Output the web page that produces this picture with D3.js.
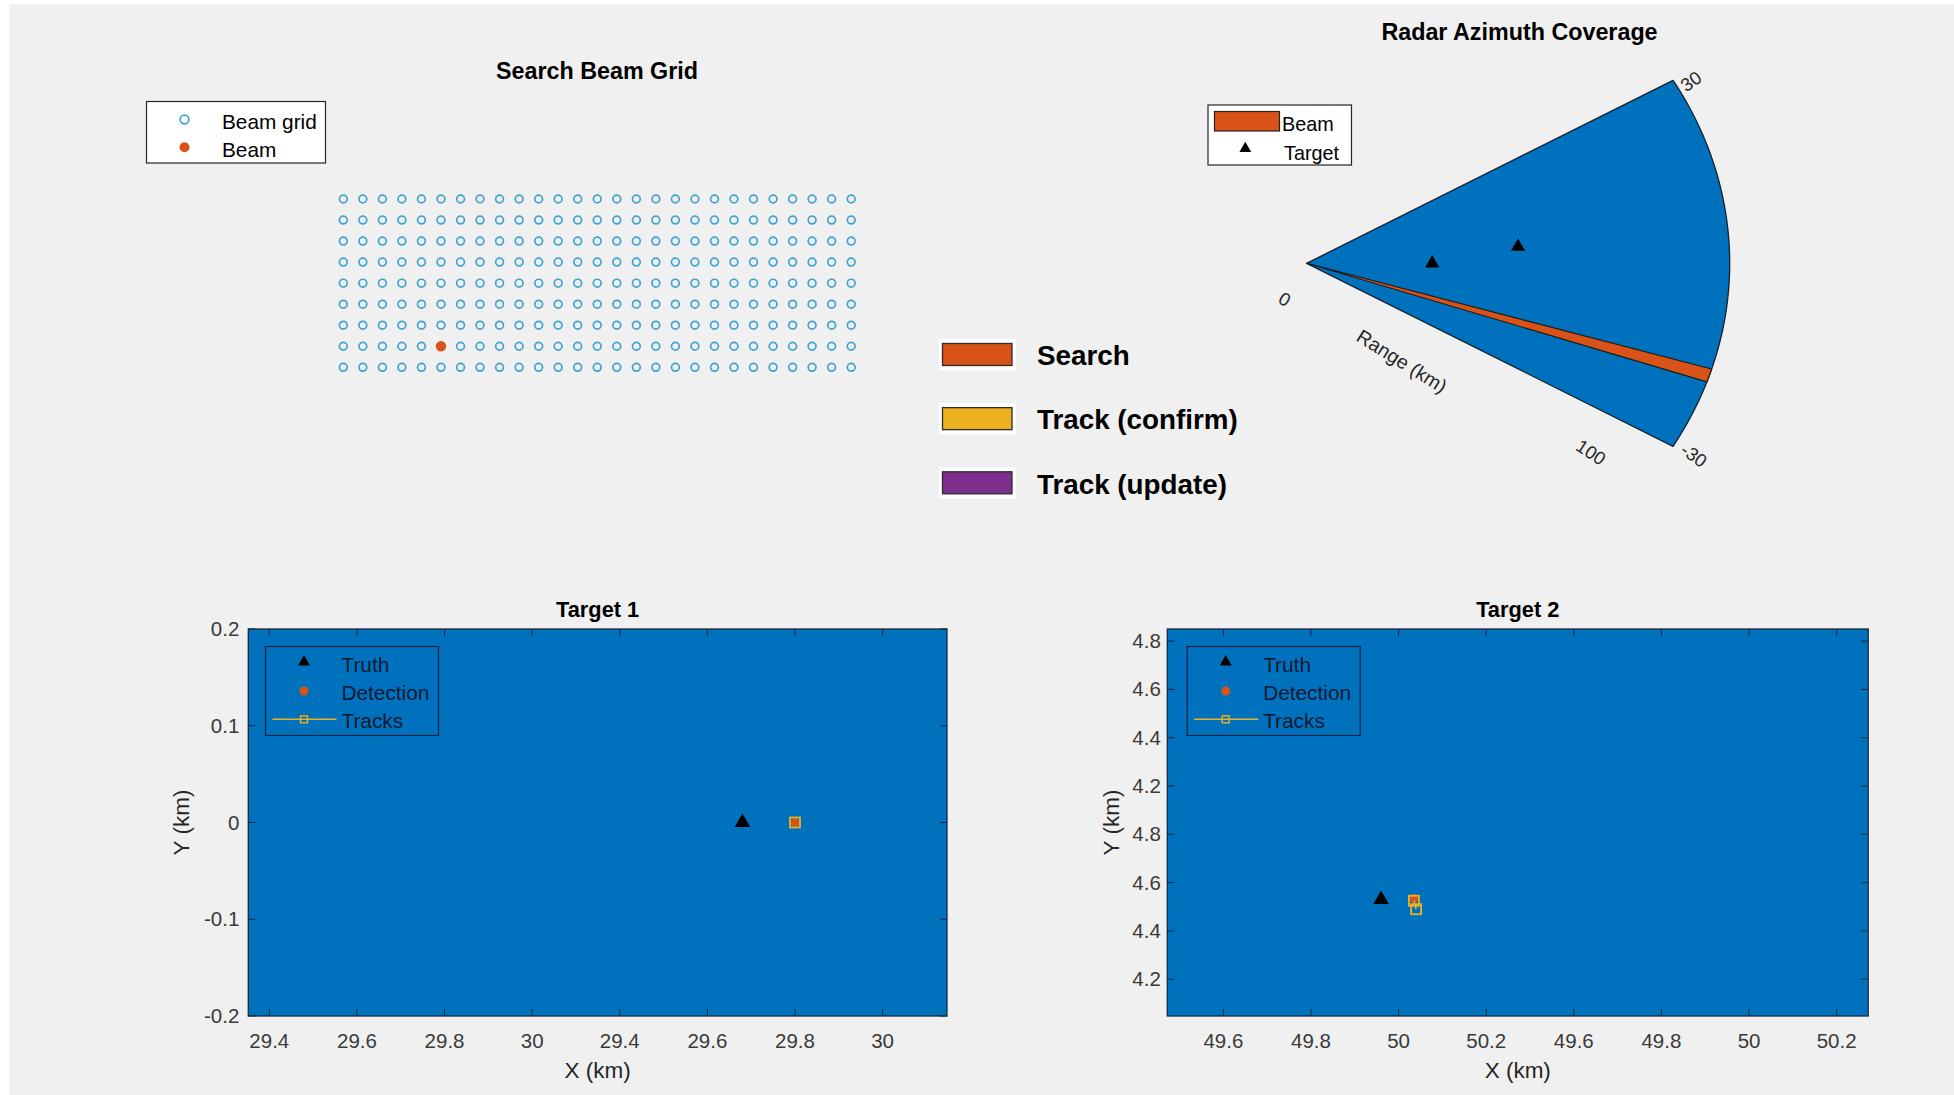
<!DOCTYPE html>
<html>
<head>
<meta charset="utf-8">
<script src="https://cdn.jsdelivr.net/npm/d3@7"></script>
<style>
  html, body { margin: 0; padding: 0; background: #ffffff; }
  svg { display: block; font-family: "Liberation Sans", Arial, Helvetica, sans-serif; }
</style>
</head>
<body>
<svg id="fig" width="1954" height="1095"></svg>
<script>
// ---------------- data ----------------
// search beam grid (azimuth / elevation of every beam, degrees)
const beamGridAz = [-30, -27.69, -25.38, -23.08, -20.77, -18.46, -16.15, -13.85, -11.54, -9.23,
                    -6.92, -4.62, -2.31, 0, 2.31, 4.62, 6.92, 9.23, 11.54, 13.85,
                    16.15, 18.46, 20.77, 23.08, 25.38, 27.69, 30];
const beamGridEl = [0, 2.5, 5, 7.5, 10, 12.5, 15, 17.5, 20];
const activeBeam = [-18.46, 2.5];            // [az, el] of the current beam

// radar azimuth coverage
const coverageAzLimits = [-30, 30];          // degrees
const coverageRangeLimits = [0, 100];        // km
const coverageBeam = [-18.9, -16.8];         // beam azimuth span, degrees
const coverageThetaTicks = ["30", "-30"];
const coverageRangeTicks = ["0", "100"];

// job types in the scheduler legend
const jobTypes = ["Search", "Track (confirm)", "Track (update)"];
const jobColors = ["#D95319", "#EDB120", "#7E2F8E"];

// Target 1 (km)
const target1Truth = [[29.68, 0.0]];
const target1Detections = [[29.80, 0.0]];
const target1Tracks = [[29.80, 0.0]];
const target1XTicks = [28.6, 28.8, 29.0, 29.2, 29.4, 29.6, 29.8, 30.0];
const target1XTickLabels = ["29.4", "29.6", "29.8", "30", "29.4", "29.6", "29.8", "30"];
const target1YTicks = [-0.2, -0.1, 0, 0.1, 0.2];
const target1YTickLabels = ["-0.2", "-0.1", "0", "0.1", "0.2"];
const target1XDomain = [28.552, 30.147];
const target1YDomain = [-0.2, 0.2];

// Target 2 (km)
const target2Truth = [[49.96, 4.53]];
const target2Detections = [[50.035, 4.535]];
const target2Tracks = [[50.035, 4.525], [50.04, 4.49]];
const target2XTicks = [49.6, 49.8, 50.0, 50.2, 50.4, 50.6, 50.8, 51.0];
const target2XTickLabels = ["49.6", "49.8", "50", "50.2", "49.6", "49.8", "50", "50.2"];
const target2YTicks = [4.2, 4.4, 4.6, 4.8, 5.0, 5.2, 5.4, 5.6];
const target2YTickLabels = ["4.2", "4.4", "4.6", "4.8", "4.2", "4.4", "4.6", "4.8"];
const target2XDomain = [49.472, 51.072];
const target2YDomain = [4.048, 5.65];

// ---------------- drawing ----------------
const svg = d3.select("#fig");
const BLUE = "#0072BD";
const ORANGE = "#D95319";
const YELLOW = "#EDB120";
const GRIDBLUE = "#3fa3d6";
const TEXT = "#262626";

// figure background
svg.append("rect").attr("x", 9).attr("y", 4).attr("width", 1954 - 9).attr("height", 1095 - 4)
   .attr("fill", "#F0F0F0");

const tri = (size) => d3.symbol(d3.symbolTriangle, size)();

// ===== Search Beam Grid =====
{
  const x = d3.scaleLinear().domain([-30, 30]).range([343.3, 851.2]);
  const y = d3.scaleLinear().domain([0, 20]).range([367.3, 199]);
  const g = svg.append("g");

  g.append("text").attr("x", 597).attr("y", 79).attr("text-anchor", "middle")
    .attr("font-size", 23.3).attr("font-weight", "bold").attr("fill", "#000").text("Search Beam Grid");

  const pts = [];
  beamGridEl.forEach(el => beamGridAz.forEach(az => pts.push([az, el])));
  g.selectAll("circle.grid").data(pts).join("circle").attr("class", "grid")
    .attr("cx", d => x(d[0])).attr("cy", d => y(d[1])).attr("r", 3.9)
    .attr("fill", "none").attr("stroke", GRIDBLUE).attr("stroke-width", 1.7);

  g.append("circle").attr("cx", x(activeBeam[0])).attr("cy", y(activeBeam[1])).attr("r", 5.2)
    .attr("fill", ORANGE);

  // legend
  const lg = g.append("g");
  lg.append("rect").attr("x", 146.5).attr("y", 101.5).attr("width", 179).attr("height", 61.5)
    .attr("fill", "#fff").attr("stroke", "#262626").attr("stroke-width", 1.2);
  lg.append("circle").attr("cx", 184.5).attr("cy", 119.5).attr("r", 4.3)
    .attr("fill", "none").attr("stroke", GRIDBLUE).attr("stroke-width", 1.7);
  lg.append("circle").attr("cx", 184.5).attr("cy", 147.3).attr("r", 5).attr("fill", ORANGE);
  lg.append("text").attr("x", 222).attr("y", 128.5).attr("font-size", 20.8).attr("fill", "#000").text("Beam grid");
  lg.append("text").attr("x", 222).attr("y", 156.5).attr("font-size", 20.8).attr("fill", "#000").text("Beam");
}

// ===== Radar Azimuth Coverage =====
{
  const cx = 1306.7, cy = 263.3;
  const rx = d3.scaleLinear().domain(coverageRangeLimits).range([0, 423]);
  const ry = d3.scaleLinear().domain(coverageRangeLimits).range([0, 366]);
  const rad = d => d * Math.PI / 180;
  const px = (r, az) => cx + rx(r) * Math.cos(rad(az));
  const py = (r, az) => cy - ry(r) * Math.sin(rad(az));
  const rMax = coverageRangeLimits[1];

  const sector = (a0, a1) => {
    const n = 80;
    const pts = [[px(0, 0), py(0, 0)]];
    for (let i = 0; i <= n; i++) {
      const a = a0 + (a1 - a0) * i / n;
      pts.push([px(rMax, a), py(rMax, a)]);
    }
    return d3.line()(pts) + "Z";
  };

  const g = svg.append("g");
  g.append("text").attr("x", 1519.5).attr("y", 40).attr("text-anchor", "middle")
    .attr("font-size", 23.3).attr("font-weight", "bold").attr("fill", "#000").text("Radar Azimuth Coverage");

  g.append("path").attr("d", sector(coverageAzLimits[0], coverageAzLimits[1]))
    .attr("fill", BLUE).attr("stroke", "#15202c").attr("stroke-width", 1.3).attr("stroke-linejoin", "round");
  g.append("path").attr("d", sector(coverageBeam[0], coverageBeam[1]))
    .attr("fill", ORANGE).attr("stroke", "#1a1a1a").attr("stroke-width", 1.1).attr("stroke-linejoin", "round");

  // targets (truth positions)
  [target1Truth[0], target2Truth[0]].forEach(([tx, ty]) => {
    const r = Math.hypot(tx, ty);
    const az = Math.atan2(ty, tx) * 180 / Math.PI;
    g.append("path").attr("d", tri(88))
      .attr("transform", `translate(${px(r, az)},${py(r, az)})`).attr("fill", "#000");
  });

  // theta tick labels
  g.append("text").attr("transform", `translate(${px(rMax, 30) + 18},${py(rMax, 30) + 1}) rotate(-35)`)
    .attr("text-anchor", "middle").attr("dominant-baseline", "central")
    .attr("font-size", 18.5).attr("fill", TEXT).text(coverageThetaTicks[0]);
  g.append("text").attr("transform", `translate(${px(rMax, -30) + 21},${py(rMax, -30) + 9}) rotate(35)`)
    .attr("text-anchor", "middle").attr("dominant-baseline", "central")
    .attr("font-size", 18.5).attr("fill", TEXT).text(coverageThetaTicks[1]);
  // range tick labels and axis label
  g.append("text").attr("transform", `translate(${px(0, 0) - 22},${py(0, 0) + 36}) rotate(30)`)
    .attr("text-anchor", "middle").attr("dominant-baseline", "central")
    .attr("font-size", 18.5).attr("fill", TEXT).text(coverageRangeTicks[0]);
  g.append("text").attr("transform", `translate(${px(rMax, -30) - 82},${py(rMax, -30) + 6}) rotate(33)`)
    .attr("text-anchor", "middle").attr("dominant-baseline", "central")
    .attr("font-size", 18.5).attr("fill", TEXT).text(coverageRangeTicks[1]);
  g.append("text").attr("transform", `translate(1402,361) rotate(32)`)
    .attr("text-anchor", "middle").attr("dominant-baseline", "central")
    .attr("font-size", 19.5).attr("fill", TEXT).text("Range (km)");

  // legend
  const lg = g.append("g");
  lg.append("rect").attr("x", 1208).attr("y", 105).attr("width", 143.5).attr("height", 60)
    .attr("fill", "#fff").attr("stroke", "#262626").attr("stroke-width", 1.2);
  lg.append("rect").attr("x", 1214.5).attr("y", 111.5).attr("width", 65).attr("height", 19.5)
    .attr("fill", ORANGE).attr("stroke", "#222").attr("stroke-width", 1.2);
  lg.append("path").attr("d", tri(60)).attr("transform", "translate(1245.3,148.5)").attr("fill", "#000");
  lg.append("text").attr("x", 1282).attr("y", 130.5).attr("font-size", 19.8).attr("fill", "#000").text("Beam");
  lg.append("text").attr("x", 1284).attr("y", 159.5).attr("font-size", 19.8).attr("fill", "#000").text("Target");
}

// ===== Job type legend =====
{
  const yc = d3.scalePoint().domain(jobTypes).range([354.5, 482.8]);
  const g = svg.append("g");
  jobTypes.forEach((name, i) => {
    const c = yc(name);
    g.append("rect").attr("x", 939).attr("y", c - 15.5).attr("width", 77).attr("height", 31.5).attr("fill", "#fff");
    g.append("rect").attr("x", 942.5).attr("y", c - 11).attr("width", 69.5).attr("height", 22)
      .attr("fill", jobColors[i]).attr("stroke", "#2b2b2b").attr("stroke-width", 1.3);
    g.append("text").attr("x", 1037).attr("y", c + 10.8).attr("font-size", 27.8).attr("font-weight", "bold")
      .attr("fill", "#000").text(name);
  });
}

// ===== Target panels =====
function targetPanel(o) {
  const x = d3.scaleLinear().domain(o.xDomain).range([o.left, o.right]);
  const y = d3.scaleLinear().domain(o.yDomain).range([o.bottom, o.top]);
  const g = svg.append("g");
  const tick = 7, tickColor = "#16263a";

  g.append("rect").attr("x", o.left).attr("y", o.top).attr("width", o.right - o.left)
    .attr("height", o.bottom - o.top).attr("fill", BLUE);

  // ticks on all four sides
  o.xTicks.forEach((t, i) => {
    const xx = x(t);
    g.append("line").attr("x1", xx).attr("x2", xx).attr("y1", o.bottom).attr("y2", o.bottom - tick)
      .attr("stroke", tickColor).attr("stroke-width", 1);
    g.append("line").attr("x1", xx).attr("x2", xx).attr("y1", o.top).attr("y2", o.top + tick)
      .attr("stroke", tickColor).attr("stroke-width", 1);
    g.append("text").attr("x", xx).attr("y", o.bottom + 32).attr("text-anchor", "middle")
      .attr("font-size", 20.5).attr("fill", "#3a3a3a").text(o.xTickLabels[i]);
  });
  o.yTicks.forEach((t, i) => {
    const yy = y(t);
    g.append("line").attr("x1", o.left).attr("x2", o.left + tick).attr("y1", yy).attr("y2", yy)
      .attr("stroke", tickColor).attr("stroke-width", 1);
    g.append("line").attr("x1", o.right).attr("x2", o.right - tick).attr("y1", yy).attr("y2", yy)
      .attr("stroke", tickColor).attr("stroke-width", 1);
    g.append("text").attr("x", o.left - o.yLabelGap).attr("y", yy + 7).attr("text-anchor", "end")
      .attr("font-size", 20.5).attr("fill", "#3a3a3a").text(o.yTickLabels[i]);
  });

  g.append("rect").attr("x", o.left).attr("y", o.top).attr("width", o.right - o.left)
    .attr("height", o.bottom - o.top).attr("fill", "none").attr("stroke", "#1a2a3c").attr("stroke-width", 1.3);

  // title and axis labels
  const mid = (o.left + o.right) / 2;
  g.append("text").attr("x", mid).attr("y", o.top - 12).attr("text-anchor", "middle")
    .attr("font-size", 21.8).attr("font-weight", "bold").attr("fill", "#000").text(o.title);
  g.append("text").attr("x", mid).attr("y", o.bottom + 62).attr("text-anchor", "middle")
    .attr("font-size", 22.5).attr("fill", TEXT).text("X (km)");
  g.append("text").attr("transform", `translate(${o.yLabelX},${(o.top + o.bottom) / 2}) rotate(-90)`)
    .attr("text-anchor", "middle").attr("dominant-baseline", "central")
    .attr("font-size", 22.5).attr("fill", TEXT).text("Y (km)");

  // marks
  g.selectAll("path.truth").data(o.truth).join("path").attr("class", "truth")
    .attr("d", tri(105)).attr("transform", d => `translate(${x(d[0])},${y(d[1])})`).attr("fill", "#000");
  g.selectAll("circle.det").data(o.detections).join("circle").attr("class", "det")
    .attr("cx", d => x(d[0])).attr("cy", d => y(d[1])).attr("r", 4.3).attr("fill", ORANGE);
  g.append("path").datum(o.tracks).attr("d", d3.line().x(d => x(d[0])).y(d => y(d[1])))
    .attr("fill", "none").attr("stroke", YELLOW).attr("stroke-width", 1.5);
  g.selectAll("rect.trk").data(o.tracks).join("rect").attr("class", "trk")
    .attr("x", d => x(d[0]) - 5).attr("y", d => y(d[1]) - 5).attr("width", 10).attr("height", 10)
    .attr("fill", "none").attr("stroke", YELLOW).attr("stroke-width", 1.8);

  // legend
  const lx = o.left + o.legendDx, ly = 646.5;
  const lg = g.append("g");
  lg.append("rect").attr("x", lx).attr("y", ly).attr("width", 173).attr("height", 89)
    .attr("fill", "none").attr("stroke", "#12203a").attr("stroke-width", 1.2);
  const mx = lx + 38.5, tx = lx + 76;
  lg.append("path").attr("d", tri(62)).attr("transform", `translate(${mx},${ly + 15.5})`).attr("fill", "#000");
  lg.append("circle").attr("cx", mx).attr("cy", ly + 44.5).attr("r", 4.5).attr("fill", ORANGE);
  lg.append("line").attr("x1", lx + 7).attr("x2", lx + 71).attr("y1", ly + 72.8).attr("y2", ly + 72.8)
    .attr("stroke", YELLOW).attr("stroke-width", 1.5);
  lg.append("rect").attr("x", mx - 3.5).attr("y", ly + 69.3).attr("width", 7).attr("height", 7)
    .attr("fill", "none").attr("stroke", YELLOW).attr("stroke-width", 1.4);
  const lt = ["Truth", "Detection", "Tracks"];
  lt.forEach((s, i) => {
    lg.append("text").attr("x", tx).attr("y", ly + 25 + i * 28.3).attr("font-size", 20.8)
      .attr("fill", "#0d1830").text(s);
  });
}

targetPanel({
  title: "Target 1", left: 248.3, right: 947, top: 629, bottom: 1016,
  xDomain: target1XDomain, yDomain: target1YDomain,
  xTicks: target1XTicks, xTickLabels: target1XTickLabels,
  yTicks: target1YTicks, yTickLabels: target1YTickLabels,
  truth: target1Truth, detections: target1Detections, tracks: target1Tracks,
  yLabelX: 181.5, yLabelGap: 9, legendDx: 17.2
});
targetPanel({
  title: "Target 2", left: 1167.3, right: 1868.2, top: 629, bottom: 1016,
  xDomain: target2XDomain, yDomain: target2YDomain,
  xTicks: target2XTicks, xTickLabels: target2XTickLabels,
  yTicks: target2YTicks, yTickLabels: target2YTickLabels,
  truth: target2Truth, detections: target2Detections, tracks: target2Tracks,
  yLabelX: 1111, yLabelGap: 6.5, legendDx: 19.9
});
</script>
</body>
</html>
